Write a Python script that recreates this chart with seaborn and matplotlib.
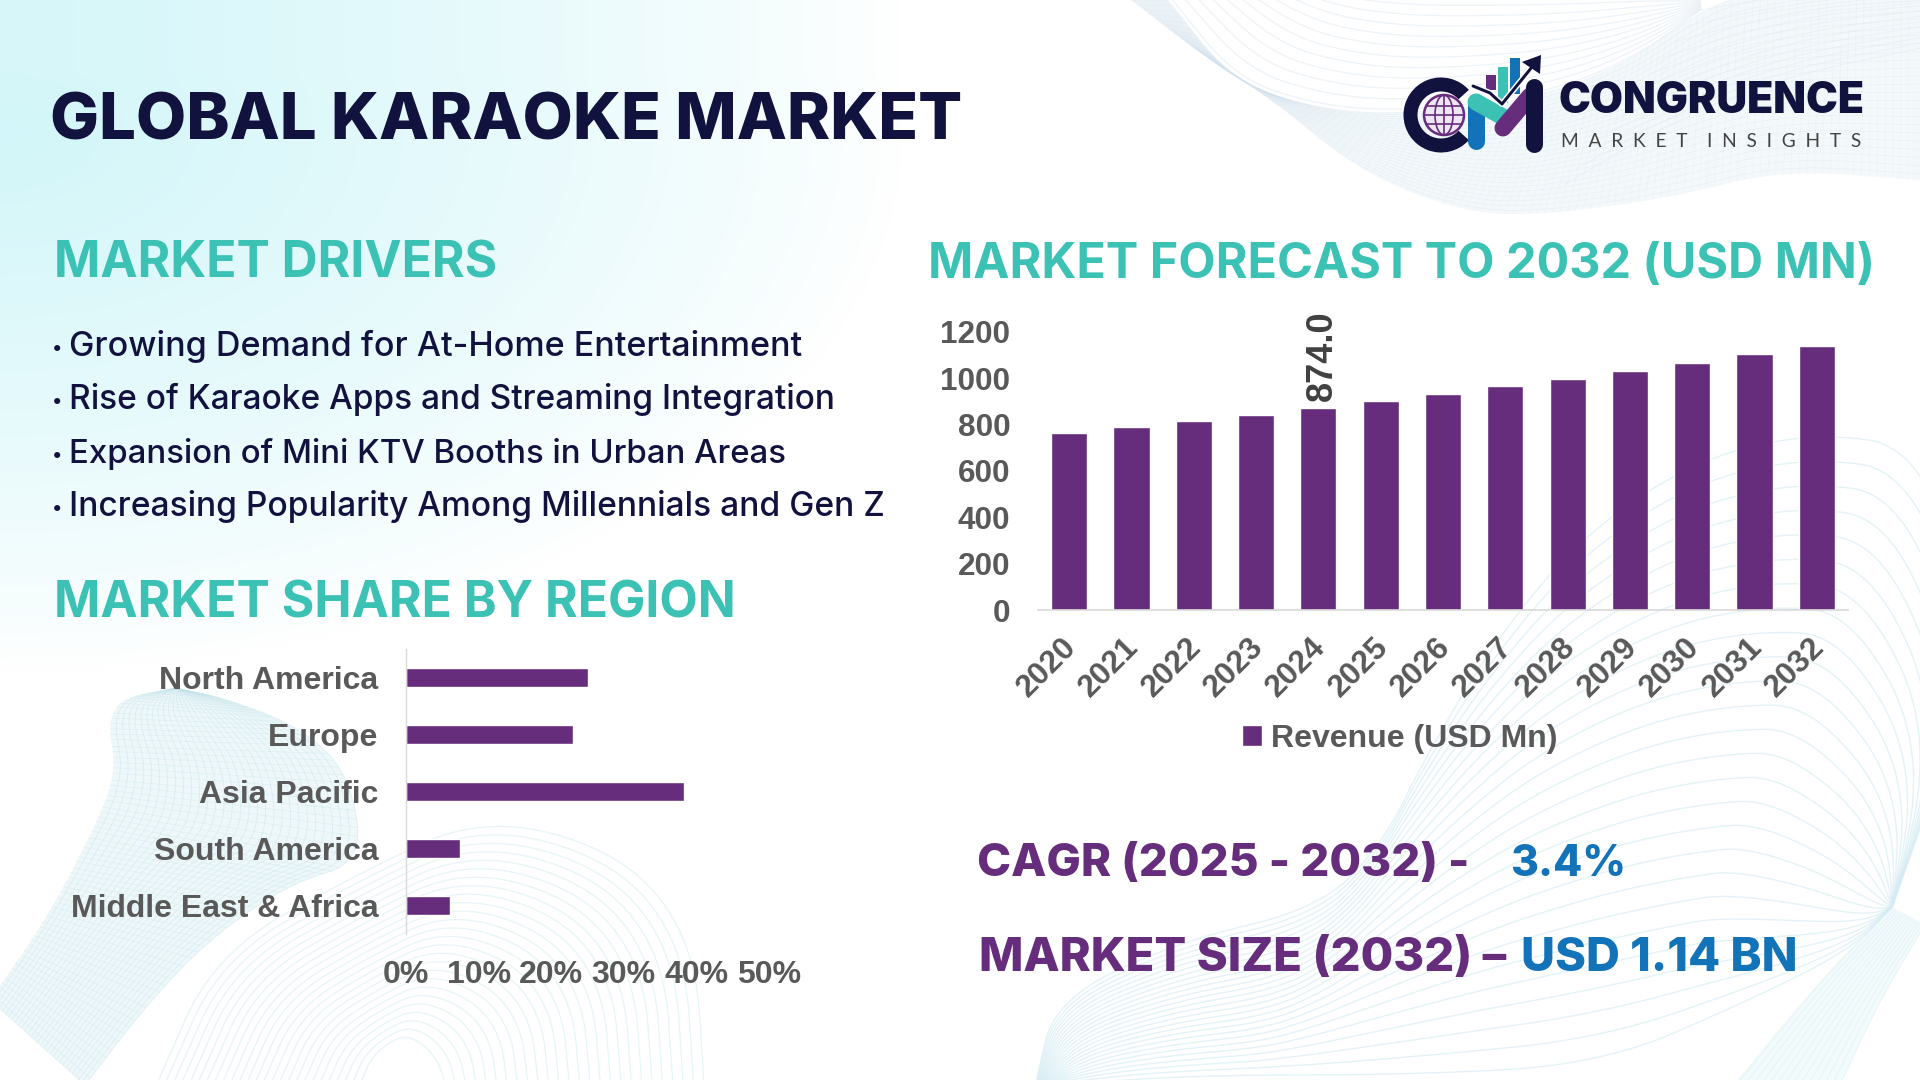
import numpy as np
import pandas as pd
import matplotlib
matplotlib.use('Agg')
import matplotlib.pyplot as plt
from matplotlib.patches import Wedge, Circle, Ellipse, Rectangle, Polygon
from matplotlib.colors import to_rgb
from matplotlib.transforms import ScaledTranslation
import seaborn as sns

# ---------- data ----------
years = ['2020','2021','2022','2023','2024','2025','2026','2027','2028','2029','2030','2031','2032']
revenue = [765, 790, 817, 843, 874, 903, 933, 967, 998, 1032, 1067, 1105, 1140]
regions = ['North America','Europe','Asia Pacific','South America','Middle East & Africa']
shares = [25.1, 23.0, 38.3, 7.5, 6.1]
drivers = ['Growing Demand for At-Home Entertainment',
           'Rise of Karaoke Apps and Streaming Integration',
           'Expansion of Mini KTV Booths in Urban Areas',
           'Increasing Popularity Among Millennials and Gen Z']
yticks = [0, 200, 400, 600, 800, 1000, 1200]
xticks = [0, 10, 20, 30, 40, 50]

PURPLE, TEAL, NAVY, BLUE, GREY = '#652d7c', '#3cc1b5', '#12123f', '#1273b8', '#595959'
W, H = 1920, 1080

sns.set_theme(style='white')
fig = plt.figure(figsize=(19.2, 10.8), dpi=100, facecolor='white')
px = 0.72  # points per pixel


def box(l, t, r, b):
    return [l / W, 1 - b / H, (r - l) / W, (b - t) / H]


# ---------- background canvas in pixel coordinates ----------
bg = fig.add_axes([0, 0, 1, 1], zorder=0)
bg.set_xlim(0, W); bg.set_ylim(H, 0); bg.axis('off')

yy, xx = np.mgrid[0:H:270j, 0:W:480j]
d = np.sqrt((xx / 900) ** 2 + (np.clip(yy - 130, -60, None) / 540) ** 2)
alpha = np.clip(1 - d, 0, 1) ** 0.8
rgb = np.array(to_rgb('#d2f6f9'))
img = 1 - (1 - rgb)[None, None, :] * alpha[..., None]
bg.imshow(img, extent=[0, W, H, 0], aspect='auto', zorder=0, interpolation='bilinear')


def smooth(points, n=220):
    p = np.array(points, float)
    for _ in range(4):
        q = 0.75 * p[:-1] + 0.25 * p[1:]
        r = 0.25 * p[:-1] + 0.75 * p[1:]
        p = np.vstack([p[0], np.column_stack([q, r]).reshape(-1, 2), p[-1]])
    s = np.r_[0, np.cumsum(np.hypot(*np.diff(p, axis=0).T))]
    t = np.linspace(0, s[-1], n)
    return np.column_stack([np.interp(t, s, p[:, 0]), np.interp(t, s, p[:, 1])])


def family(a, b, n, color, lw=0.6, al=0.5, cross=0, fill=None, fill_alpha=0.4):
    A, B = smooth(a), smooth(b)
    if fill:
        bg.fill(np.r_[A[:, 0], B[::-1, 0]], np.r_[A[:, 1], B[::-1, 1]], color=fill, alpha=fill_alpha, lw=0, zorder=1)
    for f in np.linspace(0.03, 1, n):
        c = A * (1 - f) + B * f
        bg.plot(c[:, 0], c[:, 1], color=color, lw=lw, alpha=al, zorder=1, solid_capstyle='round')
    if cross:
        for i in np.linspace(0, len(A) - 1, cross).astype(int):
            bg.plot([A[i, 0], B[i, 0]], [A[i, 1], B[i, 1]], color=color, lw=lw, alpha=al * 0.7, zorder=1)


# top-right ribbon
family([(1131, 0), (1205, 57), (1273, 100), (1361, 173), (1466, 213), (1545, 215), (1675, 197), (1780, 170), (1920, 180)],
       [(1168, 0), (1231, 80), (1309, 107), (1388, 115), (1518, 103), (1623, 67), (1701, 10), (1760, -10), (1920, -30)],
       26, '#d3e2ef', 0.45, 0.35, cross=110, fill='#e6f0f6', fill_alpha=0.45)
family([(1168, 0), (1231, 80), (1309, 107), (1388, 115), (1518, 103), (1623, 67), (1701, 10)],
       [(1300, -20), (1350, -10), (1420, -5), (1500, -5), (1580, -5), (1640, -5), (1700, 0)],
       12, '#dbe7f1', 0.9, 0.5)
family([(1560, 190), (1660, 130), (1780, 80), (1920, 50)],
       [(1700, 10), (1760, 0), (1840, -10), (1920, -10)],
       12, '#dde9f2', 0.7, 0.45)

# bottom-left ribbon and hump
family([(150, 1085), (210, 950), (354, 870), (485, 808), (630, 847), (703, 940), (712, 1085)],
       [(360, 1085), (370, 1060), (385, 1045), (405, 1035), (425, 1045), (440, 1065), (445, 1085)],
       26, '#d6eef2', 0.9, 0.6)
family([(-10, 1000), (48, 917), (102, 813), (116, 767), (108, 725), (120, 698), (175, 688)],
       [(85, 1085), (145, 1007), (208, 940), (290, 883), (364, 862), (349, 773), (300, 727), (225, 698), (175, 688)],
       30, '#bfe2ea', 0.5, 0.5, cross=70, fill='#d3ebf1', fill_alpha=0.38)

# bottom-right arcs
family([(1035, 1085), (1053, 998), (1176, 938), (1323, 903), (1387, 834), (1428, 747), (1499, 625), (1587, 517),
        (1704, 439), (1822, 413), (1930, 430), (1990, 640), (1892, 907)],
       [(1050, 1085), (1200, 1075), (1400, 1075), (1600, 1065), (1750, 1000), (1850, 950), (1892, 907)],
       26, '#d4ecf3', 1.0, 0.65)
family([(1892, 907), (1822, 977), (1733, 1085)], [(1925, 925), (1880, 1000), (1840, 1085)],
       14, '#cdeaf1', 0.7, 0.4, fill='#def2f6', fill_alpha=0.35)

# ---------- logo ----------
bg.add_patch(Wedge((1441, 115), 37.5, 42, 318, width=14, color=NAVY, zorder=3, lw=0))
gx, gy, gr = 1444, 115, 20
bg.add_patch(Circle((gx, gy), gr, fc='#efe6f3', ec=PURPLE, lw=1.8, zorder=3))
bg.add_patch(Ellipse((gx, gy), 18, 2 * gr, fc='none', ec=PURPLE, lw=1.2, zorder=3))
for dy in (-9, 0, 9):
    hw = np.sqrt(gr ** 2 - dy ** 2)
    bg.plot([gx - hw, gx + hw], [gy + dy, gy + dy], color=PURPLE, lw=1.2, zorder=3)
bg.plot([gx, gx], [gy - gr, gy + gr], color=PURPLE, lw=1.2, zorder=3)
bg.add_patch(Rectangle((1486, 75), 10, 15, color=PURPLE, zorder=3, lw=0))
bg.add_patch(Rectangle((1498, 67), 10, 36, color=TEAL, zorder=3, lw=0))
bg.add_patch(Rectangle((1510, 58), 10, 36, color=BLUE, zorder=3, lw=0))
sw = 17 * px
bg.plot([1476, 1476], [102, 141], color=BLUE, lw=sw, solid_capstyle='round', zorder=4)
bg.plot([1476, 1503], [102, 117], color=TEAL, lw=sw, solid_capstyle='round', zorder=4)
bg.plot([1503, 1530], [128, 96], color=PURPLE, lw=sw, solid_capstyle='round', zorder=4)
bg.plot([1534, 1534], [87, 144], color=NAVY, lw=sw, solid_capstyle='round', zorder=4)
ax_ = [1473, 1490, 1502, 1532]
ay_ = [86, 93, 104, 67]
bg.plot(ax_, ay_, color='white', lw=6 * px, zorder=5)
bg.plot(ax_, ay_, color=NAVY, lw=3 * px, zorder=6)
bg.add_patch(Polygon([(1541, 55), (1522, 62), (1540, 74)], color=NAVY, zorder=6, lw=0))

# ---------- column chart ----------
ax1 = fig.add_axes(box(1038, 332, 1848, 610), zorder=2)
ax1.patch.set_alpha(0)
df1 = pd.DataFrame({'Year': years, 'Revenue': revenue})
sns.barplot(data=df1, x='Year', y='Revenue', color=PURPLE, saturation=1, width=0.58, ax=ax1,
            label='Revenue (USD Mn)')
ax1.set_xlim(-0.5, 12.5); ax1.set_ylim(0, 1200)
ax1.set_xlabel(''); ax1.set_ylabel('')
ax1.set_yticks(yticks)
sns.despine(ax=ax1, left=True)
ax1.spines['bottom'].set_color('#d9d9d9'); ax1.spines['bottom'].set_linewidth(1.2)
ax1.tick_params(axis='both', length=0)
ax1.tick_params(axis='y', pad=20)
ax1.tick_params(axis='x', pad=23.5)
shift = ScaledTranslation(3 * px / 72, 0, fig.dpi_scale_trans)
for l in ax1.get_yticklabels():
    l.set(family='Liberation Sans', weight='bold', fontsize=22.7, color=GREY)
for l in ax1.get_xticklabels():
    l.set(family='Liberation Sans', weight='bold', fontsize=22.8, color=GREY, rotation=45, ha='right',
          va='center', rotation_mode='anchor')
    l.set_transform(l.get_transform() + shift)
ax1.annotate(f'{revenue[4]:.1f}', (years.index('2024'), revenue[4]), xytext=(3, 4.5), textcoords='offset points',
             rotation=90, ha='center', va='bottom', family='Liberation Sans', weight='bold', fontsize=26, color='#404040')
leg = ax1.legend(loc='center', bbox_to_anchor=((1400 - 1038) / 810, (610 - 738.5) / 278), frameon=False,
                 prop={'family': 'Liberation Sans', 'weight': 'bold', 'size': 23}, handlelength=0.62,
                 handleheight=0.62, handletextpad=0.3)
for t in leg.get_texts():
    t.set_color(GREY)

# ---------- horizontal chart ----------
ax2 = fig.add_axes(box(406, 649, 769, 934), zorder=2)
ax2.patch.set_alpha(0)
df2 = pd.DataFrame({'Region': regions, 'Share': shares})
sns.barplot(data=df2, y='Region', x='Share', color=PURPLE, saturation=1, width=0.35, ax=ax2, orient='h')
ax2.set_xlim(0, 50); ax2.set_ylim(4.5, -0.5)
ax2.set_xlabel(''); ax2.set_ylabel('')
ax2.set_xticks(xticks); ax2.set_xticklabels([f'{v}%' for v in xticks])
sns.despine(ax=ax2, bottom=True)
ax2.spines['left'].set_color('#d9d9d9'); ax2.spines['left'].set_linewidth(1.0)
ax2.tick_params(axis='both', length=0)
ax2.tick_params(axis='y', pad=20)
ax2.tick_params(axis='x', pad=19)
for l in ax2.get_xticklabels() + ax2.get_yticklabels():
    l.set(family='Liberation Sans', weight='bold', fontsize=23, color=GREY)

# ---------- text overlay ----------
tx = fig.add_axes([0, 0, 1, 1], zorder=5)
tx.set_xlim(0, W); tx.set_ylim(H, 0); tx.axis('off'); tx.patch.set_alpha(0)
renderer = fig.canvas.get_renderer()


def label(s, x0, x1, base, color, weight='heavy', family='Inter', size=30):
    t = tx.text(x0, base, s, color=color, family=family, weight=weight, fontsize=size, va='baseline', ha='left')
    w = t.get_window_extent(renderer).width
    t.set_fontsize(size * (x1 - x0) / w)
    return t


label('GLOBAL KARAOKE MARKET', 50, 963, 140, NAVY)
label('MARKET DRIVERS', 54, 497, 278, TEAL, weight='bold')
label('MARKET FORECAST TO 2032 (USD MN)', 928, 1874, 278, TEAL, weight='bold')
label('MARKET SHARE BY REGION', 54, 736, 618, TEAL, weight='bold')
ends = [801, 836, 787, 885]
bases = [356, 409, 463, 516]
for s, e, b in zip(drivers, ends, bases):
    tx.text(52, b - 2, '\u2022', color=NAVY, family='Inter', weight='medium', fontsize=14, va='baseline', ha='left')
    label(s, 69, e, b, NAVY, weight='medium')
label('CAGR (2025 - 2032) -', 977, 1470, 876, PURPLE)
label('3.4%', 1510, 1626, 876, BLUE)
label('MARKET SIZE (2032) \u2013', 979, 1507, 971, PURPLE)
label('USD 1.14 BN', 1521, 1798, 971, BLUE)
label('CONGRUENCE', 1558, 1864, 113, NAVY, weight='black')
label('M  A  R  K  E  T    I  N  S  I  G  H  T  S', 1561, 1861, 147, '#444444', weight='regular', family='Lato')

fig.savefig('out.png', dpi=100)
